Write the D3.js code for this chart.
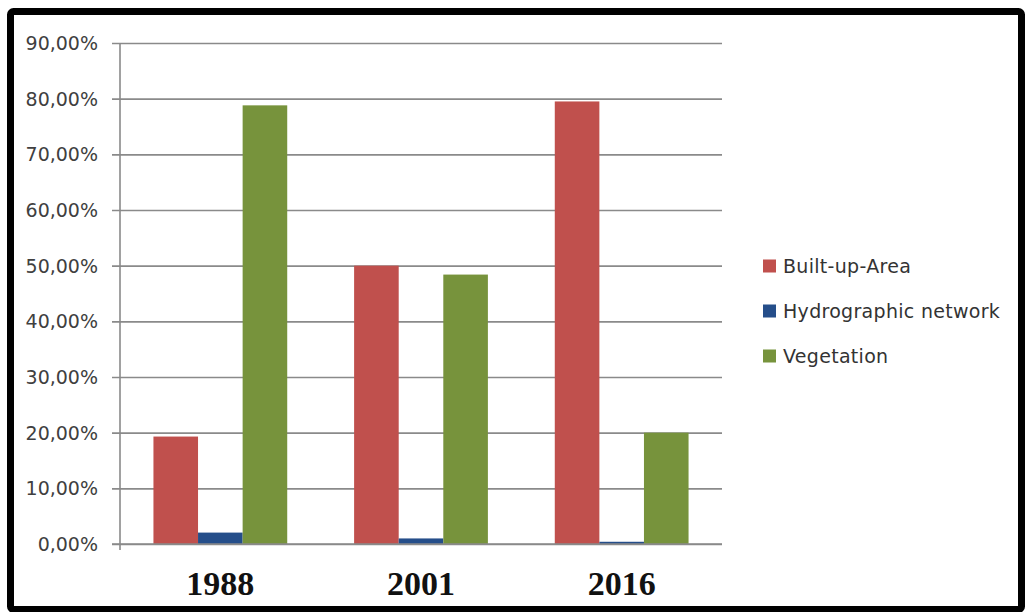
<!DOCTYPE html>
<html>
<head>
<meta charset="utf-8">
<script src="https://cdn.jsdelivr.net/npm/d3@7/dist/d3.min.js"></script>
<style>
    html, body { margin: 0; padding: 0; background: #fff; }
</style>
</head>
<body>
<div id="chart"></div>
<script>
const years = ["1988", "2001", "2016"];
const seriesNames = ["Built-up-Area", "Hydrographic network", "Vegetation"];
const builtUp = [0.193, 0.500, 0.795];
const hydro = [0.0205, 0.010, 0.004];
const vegetation = [0.788, 0.484, 0.200];
const tickValues = [0, 0.1, 0.2, 0.3, 0.4, 0.5, 0.6, 0.7, 0.8, 0.9];

const seriesValues = [builtUp, hydro, vegetation];
const seriesColors = ["#C0504D", "#254E8A", "#77933C"];

const width = 1026;
const height = 612;
const plotLeft = 120;
const plotRight = 722;
const plotTop = 43;
const plotBottom = 544;

const svg = d3.select("#chart")
    .append("svg")
    .attr("width", width)
    .attr("height", height);

// frame
svg.append("rect")
    .attr("x", 10.5)
    .attr("y", 11.5)
    .attr("width", 1011)
    .attr("height", 598)
    .attr("rx", 3)
    .attr("fill", "#fff")
    .attr("stroke", "#000")
    .attr("stroke-width", 7);

const x = d3.scaleBand()
    .domain(years)
    .range([plotLeft, plotRight])
    .paddingInner(1 / 3)
    .paddingOuter(1 / 6);

const xs = d3.scaleBand()
    .domain(seriesNames)
    .range([0, x.bandwidth()]);

const y = d3.scaleLinear()
    .domain([0, 0.9])
    .range([plotBottom, plotTop]);

const locale = d3.formatLocale({ decimal: ",", thousands: ".", grouping: [3], currency: ["", "€"] });
const pct = locale.format(".2%");

// gridlines + tick labels
const yAxis = d3.axisLeft(y)
    .tickValues(tickValues)
    .tickSize(-(plotRight - plotLeft))
    .tickFormat(pct);

const axisG = svg.append("g")
    .attr("transform", `translate(${plotLeft},0)`)
    .call(yAxis);

axisG.select(".domain").remove();
axisG.selectAll(".tick line")
    .attr("x1", -8)
    .attr("stroke", "#8a8a8a")
    .attr("stroke-width", 1.6);
axisG.selectAll(".tick text")
    .attr("x", -22)
    .attr("dy", "0.35em")
    .style("font-family", "'DejaVu Sans', sans-serif")
    .style("font-size", "19px")
    .style("fill", "#404040");

// vertical axis line
svg.append("line")
    .attr("x1", plotLeft)
    .attr("x2", plotLeft)
    .attr("y1", plotTop)
    .attr("y2", plotBottom + 6)
    .attr("stroke", "#8a8a8a")
    .attr("stroke-width", 1.6);

// bars
const groups = svg.append("g")
    .selectAll("g")
    .data(years)
    .enter()
    .append("g")
    .attr("transform", d => `translate(${x(d)},0)`);

groups.selectAll("rect")
    .data((year, i) => seriesNames.map((name, s) => ({ name, s, value: seriesValues[s][i] })))
    .enter()
    .append("rect")
    .attr("x", d => xs(d.name))
    .attr("y", d => y(d.value))
    .attr("width", xs.bandwidth())
    .attr("height", d => y(0) - y(d.value))
    .attr("fill", d => seriesColors[d.s]);

// baseline on top of bars
svg.append("line")
    .attr("x1", plotLeft - 8)
    .attr("x2", plotRight)
    .attr("y1", y(0))
    .attr("y2", y(0))
    .attr("stroke", "#8a8a8a")
    .attr("stroke-width", 1.6);

// year labels
svg.append("g")
    .selectAll("text")
    .data(years)
    .enter()
    .append("text")
    .attr("x", d => x(d) + x.bandwidth() / 2)
    .attr("y", 595)
    .attr("text-anchor", "middle")
    .style("font-family", "'Liberation Serif', 'Times New Roman', serif")
    .style("font-weight", "bold")
    .style("font-size", "34px")
    .style("fill", "#111")
    .text(d => d);

// legend
const legend = svg.append("g")
    .attr("transform", "translate(763,266)");

const legendItem = legend.selectAll("g")
    .data(seriesNames)
    .enter()
    .append("g")
    .attr("transform", (d, i) => `translate(0,${i * 45})`);

legendItem.append("rect")
    .attr("x", 0)
    .attr("y", -6.5)
    .attr("width", 13)
    .attr("height", 13)
    .attr("fill", (d, i) => seriesColors[i]);

legendItem.append("text")
    .attr("x", 20)
    .attr("dy", "0.35em")
    .style("font-family", "'DejaVu Sans', sans-serif")
    .style("font-size", "19px")
    .style("letter-spacing", "0.3px")
    .style("fill", "#333")
    .text(d => d);
</script>
</body>
</html>
